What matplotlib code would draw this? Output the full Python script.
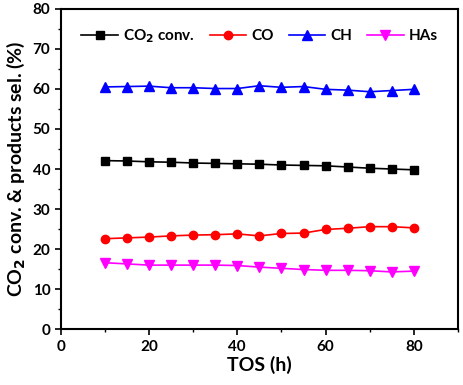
import matplotlib
matplotlib.use("Agg")
import matplotlib.pyplot as plt
from matplotlib.ticker import MultipleLocator

plt.rcParams['font.family'] = ['Lato', 'DejaVu Sans']
plt.rcParams['font.weight'] = 'bold'

tos = [10, 15, 20, 25, 30, 35, 40, 45, 50, 55, 60, 65, 70, 75, 80]
co2_conv = [42.1, 42.0, 41.8, 41.7, 41.5, 41.4, 41.3, 41.2, 41.0, 40.9, 40.8, 40.5, 40.2, 40.0, 39.8]
co = [22.6, 22.8, 23.0, 23.3, 23.5, 23.6, 23.8, 23.3, 23.9, 24.0, 24.9, 25.2, 25.6, 25.6, 25.3]
ch = [60.5, 60.6, 60.7, 60.3, 60.3, 60.1, 60.1, 60.8, 60.4, 60.6, 59.9, 59.7, 59.3, 59.6, 59.9]
has = [16.6, 16.3, 16.0, 16.0, 16.0, 16.0, 15.9, 15.5, 15.2, 14.9, 14.7, 14.7, 14.6, 14.3, 14.5]

fig = plt.figure(figsize=(4.64, 3.85), dpi=100)
ax = fig.add_axes([0.131, 0.145, 0.856, 0.832])

ax.plot(tos, co2_conv, '-s', color='black', ms=5.5, lw=1.2, label='CO$_2$ conv.')
ax.plot(tos, co, '-o', color='red', ms=6, lw=1.2, label='CO')
ax.plot(tos, ch, '-^', color='blue', ms=6.5, lw=1.2, label='CH')
ax.plot(tos, has, '-v', color='magenta', ms=6.5, lw=1.2, label='HAs')

ax.set_xlim(0, 90)
ax.set_ylim(0, 80)
ax.xaxis.set_major_locator(MultipleLocator(20))
ax.xaxis.set_minor_locator(MultipleLocator(10))
ax.yaxis.set_major_locator(MultipleLocator(10))
ax.yaxis.set_minor_locator(MultipleLocator(5))
ax.tick_params(which='major', direction='out', length=4, width=1.2, labelsize=11)
ax.tick_params(which='minor', direction='out', length=2.5, width=1.0)
for s in ax.spines.values():
    s.set_linewidth(1.5)

ax.set_xlabel('TOS (h)', fontsize=14, fontweight='bold', labelpad=2)
ax.set_ylabel('CO$_2$ conv. & products sel. (%)', fontsize=14, fontweight='bold', labelpad=4)

ax.legend(loc='upper center', ncol=4, frameon=False, fontsize=11, handlelength=2.4,
          columnspacing=1.0, handletextpad=0.3, borderaxespad=0.8)

fig.savefig('out.png', dpi=100)
